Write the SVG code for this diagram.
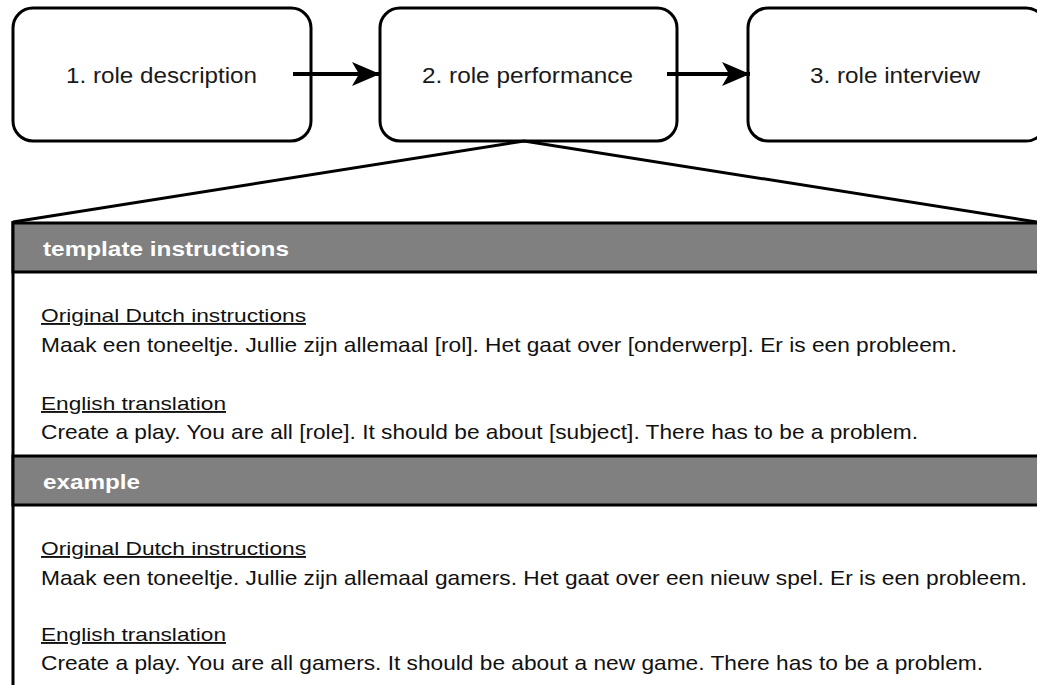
<svg xmlns="http://www.w3.org/2000/svg" width="1037" height="685" viewBox="0 0 1037 685">
<style>
.box{fill:#fff;stroke:#000;stroke-width:3}
.lbl{font-family:"Liberation Sans",Arial,sans-serif;font-size:22px;fill:#1a1a1a;text-anchor:middle}
.hdr{fill:#808080;stroke:#000;stroke-width:3}
.ht{font-family:"Liberation Sans",Arial,sans-serif;font-size:21px;font-weight:bold;fill:#fff}
.h{font-family:"Liberation Sans",Arial,sans-serif;font-size:19px;fill:#111;text-decoration:underline}
.t{font-family:"Liberation Sans",Arial,sans-serif;font-size:21px;fill:#111}
.con{stroke:#000;stroke-width:4;fill:none}
.fan{stroke:#000;stroke-width:3;fill:none}
</style>
<defs>
<marker id="arr" markerUnits="userSpaceOnUse" markerWidth="30" markerHeight="28" refX="28" refY="14" orient="auto">
<path d="M0,2 L28,14 L0,26 L7,14 Z" fill="#000"/>
</marker>
</defs>
<g id="panel">
<rect x="13" y="222" width="1040" height="470" fill="#fff" stroke="none"/>
<line x1="13" y1="221" x2="13" y2="690" stroke="#000" stroke-width="3"/>
</g>
<g id="header-template">
<rect class="hdr" x="13" y="223" width="1040" height="49"/>
<text class="ht" x="43" y="256" textLength="246" lengthAdjust="spacingAndGlyphs">template instructions</text>
</g>
<g id="body-template">
<text class="h" x="41" y="322" textLength="265" lengthAdjust="spacingAndGlyphs">Original Dutch instructions</text>
<text class="t" x="41" y="352" textLength="916" lengthAdjust="spacingAndGlyphs">Maak een toneeltje. Jullie zijn allemaal [rol]. Het gaat over [onderwerp]. Er is een probleem.</text>
<text class="h" x="41" y="410" textLength="185" lengthAdjust="spacingAndGlyphs">English translation</text>
<text class="t" x="41" y="439" textLength="877" lengthAdjust="spacingAndGlyphs">Create a play. You are all [role]. It should be about [subject]. There has to be a problem.</text>
</g>
<g id="header-example">
<rect class="hdr" x="13" y="456" width="1040" height="49"/>
<text class="ht" x="43" y="489" textLength="97" lengthAdjust="spacingAndGlyphs">example</text>
</g>
<g id="body-example">
<text class="h" x="41" y="555" textLength="265" lengthAdjust="spacingAndGlyphs">Original Dutch instructions</text>
<text class="t" x="41" y="585" textLength="986" lengthAdjust="spacingAndGlyphs">Maak een toneeltje. Jullie zijn allemaal gamers. Het gaat over een nieuw spel. Er is een probleem.</text>
<text class="h" x="41" y="641" textLength="185" lengthAdjust="spacingAndGlyphs">English translation</text>
<text class="t" x="41" y="670" textLength="942" lengthAdjust="spacingAndGlyphs">Create a play. You are all gamers. It should be about a new game. There has to be a problem.</text>
</g>
<g id="node1">
<rect class="box" x="13" y="8" width="298" height="133" rx="20"/>
<text class="lbl" x="161.5" y="83" textLength="191" lengthAdjust="spacingAndGlyphs">1. role description</text>
</g>
<g id="node2">
<rect class="box" x="380" y="8" width="297" height="133" rx="20"/>
<text class="lbl" x="527.5" y="83" textLength="211" lengthAdjust="spacingAndGlyphs">2. role performance</text>
</g>
<g id="node3">
<rect class="box" x="748" y="8" width="298" height="133" rx="20"/>
<text class="lbl" x="895" y="83" textLength="170" lengthAdjust="spacingAndGlyphs">3. role interview</text>
</g>
<g id="connectors">
<line class="con" x1="293" y1="74" x2="380" y2="74" marker-end="url(#arr)"/>
<line class="con" x1="667" y1="74" x2="750" y2="74" marker-end="url(#arr)"/>
<polyline class="fan" points="13,222 524,141 1037,222"/>
</g>
</svg>
